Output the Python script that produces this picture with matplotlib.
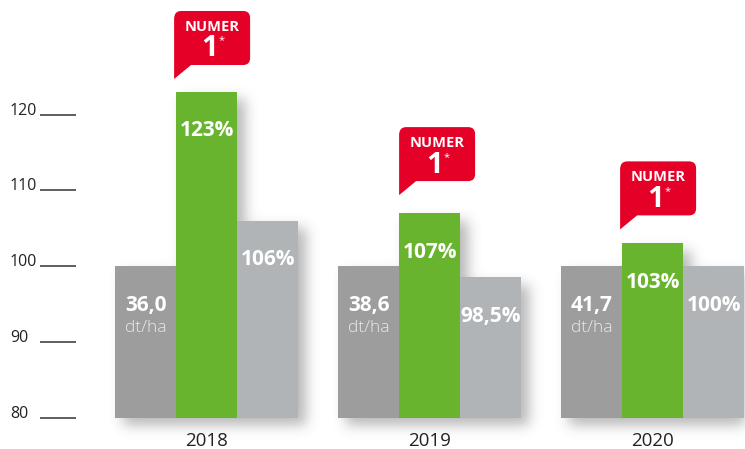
import numpy as np
import matplotlib
matplotlib.use("Agg")
import matplotlib.pyplot as plt
from matplotlib.path import Path
from matplotlib.patches import PathPatch
from matplotlib.transforms import Affine2D, blended_transform_factory

plt.rcParams['font.family'] = ['Open Sans', 'DejaVu Sans']

years = ["2018", "2019", "2020"]
gray_vals = [100, 100, 100]
green_vals = [123, 107, 103]
light_vals = [106, 98.5, 100]
gray_labels = ["36,0", "38,6", "41,7"]
green_labels = ["123%", "107%", "103%"]
light_labels = ["106%", "98,5%", "100%"]
unit = "dt/ha"
y_ticks = [80, 90, 100, 110, 120]

GRAY = "#9c9d9c"
GREEN = "#69b42e"
LIGHT = "#b0b4b6"
RED = "#e40026"
BASE = 80
W = 0.2735
PX_X = 223.0
PX_Y = 7.57
X0 = 206.6
FIG_W, FIG_H = 745, 449

fig = plt.figure(figsize=(7.45, 4.49), dpi=100)
ax = fig.add_axes([0, 0, 1, 1])
ax.set_xlim(-X0 / PX_X, (FIG_W - X0) / PX_X)
ax.set_ylim(BASE - 31.5 / PX_Y, BASE + 417.5 / PX_Y)
ax.axis("off")

x = np.arange(len(years))

ax.bar(x - W, np.array(gray_vals) - BASE, W, bottom=BASE, color=GRAY, zorder=2)
ax.bar(x + W, np.array(light_vals) - BASE, W, bottom=BASE, color=LIGHT, zorder=2)
ax.bar(x, np.array(green_vals) - BASE, W, bottom=BASE, color=GREEN, zorder=3)

# blurred drop shadow made from the bars themselves
mask = np.zeros((FIG_H, FIG_W))
for patch in ax.patches:
    (x0, y0), (x1, y1) = ax.transData.transform(patch.get_bbox().get_points())
    mask[int(FIG_H - y1) + 8:int(FIG_H - y0) + 8, int(x0) + 8:int(x1) + 8] = 1
t = np.arange(-20, 21)
kernel = np.exp(-t**2 / (2 * 6.5**2))
kernel /= kernel.sum()
mask = np.apply_along_axis(lambda r: np.convolve(r, kernel, mode="same"), 0, mask)
mask = np.apply_along_axis(lambda r: np.convolve(r, kernel, mode="same"), 1, mask)
rgba = np.zeros((FIG_H, FIG_W, 4))
rgba[..., :3] = 0.33
rgba[..., 3] = mask * 0.42
ax.imshow(rgba, extent=[*ax.get_xlim(), *ax.get_ylim()], aspect="auto", zorder=1,
          interpolation="nearest")
ax.set_xlim(-X0 / PX_X, (FIG_W - X0) / PX_X)
ax.set_ylim(BASE - 31.5 / PX_Y, BASE + 417.5 / PX_Y)


def bar_text(xp, top, txt, dy=-39, **kw):
    ax.annotate(txt, (xp, top), xytext=(0, dy), textcoords="offset pixels",
                ha="center", va="center", color="white", zorder=5, **kw)


for i in x:
    bar_text(i - W, gray_vals[i], gray_labels[i], fontsize=15, fontweight="bold")
    ax.annotate(unit, (i - W, gray_vals[i]), xytext=(0, -62), textcoords="offset pixels",
                ha="center", va="center", color="#e8e9e8", fontsize=12.5, fontweight="light", zorder=5)
    bar_text(i, green_vals[i], green_labels[i], fontsize=15, fontweight="bold")
    bar_text(i + W, light_vals[i], light_labels[i], fontsize=15, fontweight="bold")
    ax.annotate(years[i], (i, BASE), xytext=(0, -23.5), textcoords="offset pixels",
                ha="center", va="center", color="#222222", fontsize=13.5)

# y scale drawn as short lines away from the bars
pix = blended_transform_factory(Affine2D(), ax.transData)
ax.hlines(y_ticks, 40, 76, transform=pix, color="#333333", lw=1.1, zorder=2)
for tick in y_ticks:
    ax.annotate(str(tick), (10, tick), xycoords=pix, xytext=(0, 4), textcoords="offset pixels",
                ha="left", va="center", color="#222222", fontsize=11.5)

# speech bubble outline, pixels from the tail tip, y up
r = 7
bubble = [
    (Path.MOVETO, (0, 0)),
    (Path.LINETO, (0, 60)),
    (Path.CURVE3, (0, 68)), (Path.CURVE3, (r, 68)),
    (Path.LINETO, (76 - r, 68)),
    (Path.CURVE3, (76, 68)), (Path.CURVE3, (76, 68 - r)),
    (Path.LINETO, (76, 14 + r)),
    (Path.CURVE3, (76, 14)), (Path.CURVE3, (76 - r, 14)),
    (Path.LINETO, (17, 14)),
    (Path.CLOSEPOLY, (0, 0)),
]
codes, verts = zip(*bubble)
bubble_path = Path(verts, codes)

# where each tail tip sits against the green bar's top left corner, pixels
tail_dx = [-2, 0, -2]
tail_dy = [13, 18, 14]

for i in x:
    corner = (i - 0.5 * W, green_vals[i])
    tip = ax.transData.transform(corner) + np.array([tail_dx[i], tail_dy[i]])
    ax.add_patch(PathPatch(bubble_path, transform=Affine2D().translate(*tip), fc=RED, lw=0, zorder=6))
    for txt, ox, oy, kw in [
        ("NUMER", 38, 52, dict(fontsize=10.5, fontweight="bold")),
        ("1", 35, 30, dict(fontsize=21, fontweight="bold")),
        ("*", 47, 38, dict(fontsize=8)),
    ]:
        ax.annotate(txt, corner, xytext=(tail_dx[i] + ox, tail_dy[i] + oy), textcoords="offset pixels",
                    ha="center", va="center", color="white", zorder=7, **kw)

fig.savefig("out.png", dpi=100)
